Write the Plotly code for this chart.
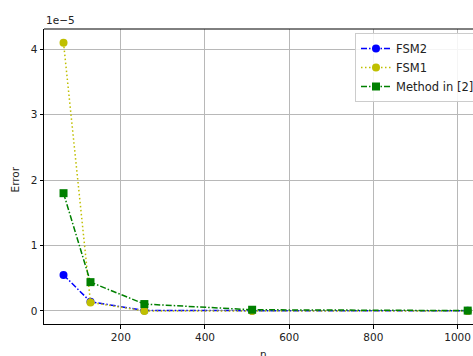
import plotly.graph_objects as go

# Data (errors)
n = [64, 128, 256, 512, 1024]
fsm2 = [0.55e-5, 0.14e-5, 0.006e-5, 0.003e-5, 0.001e-5]
fsm1 = [4.10e-5, 0.13e-5, 0.0e-5, 0.0e-5, 0.0e-5]
method2 = [1.80e-5, 0.44e-5, 0.105e-5, 0.018e-5, 0.005e-5]

y_tick_vals = [0, 1e-5, 2e-5, 3e-5, 4e-5]
y_tick_text = ["0", "1", "2", "3", "4"]
x_tick_vals = [200, 400, 600, 800, 1000]

FONT = "DejaVu Sans"
FS = 10.5

fig = go.Figure()
fig.add_trace(go.Scatter(
    x=n, y=fsm2, name="FSM2", mode="lines+markers",
    line=dict(color="#0000ff", width=1.5, dash="6px,2px,1.5px,2px"),
    marker=dict(symbol="circle", size=8, color="#0000ff")))
fig.add_trace(go.Scatter(
    x=n, y=fsm1, name="FSM1", mode="lines+markers",
    line=dict(color="#bfbf00", width=1.5, dash="1.5px,2.5px"),
    marker=dict(symbol="circle", size=8, color="#bfbf00")))
fig.add_trace(go.Scatter(
    x=n, y=method2, name="Method in [2]", mode="lines+markers",
    line=dict(color="#008000", width=1.5, dash="6px,2px,1.5px,2px"),
    marker=dict(symbol="square", size=8, color="#008000")))

fig.update_layout(
    width=473, height=356,
    margin=dict(l=44, r=0, t=29, b=32, autoexpand=False),
    paper_bgcolor="white", plot_bgcolor="white",
    font=dict(family=FONT, size=FS, color="#222222"),
    showlegend=True,
    legend=dict(x=(355 - 44) / (473 - 44), y=1 - (33 - 29) / (356 - 61),
                xanchor="left", yanchor="top",
                bgcolor="rgba(255,255,255,0.85)", bordercolor="#cccccc",
                borderwidth=1, font=dict(family=FONT, size=11.5),
                itemwidth=30, tracegroupgap=0),
    xaxis=dict(range=[17.6, 1036.6], tickvals=x_tick_vals,
               showgrid=True, gridcolor="#b8b8b8", gridwidth=0.8,
               zeroline=False, showline=True, linecolor="black", linewidth=1,
               ticks="outside", ticklen=3.5, tickcolor="black", tickwidth=0.8,
               tickfont=dict(family=FONT, size=FS)),
    yaxis=dict(range=[-0.20e-5, 4.31e-5], tickvals=y_tick_vals, ticktext=y_tick_text,
               showgrid=True, gridcolor="#b8b8b8", gridwidth=0.8,
               zeroline=False, showline=True, linecolor="black", linewidth=1,
               ticks="outside", ticklen=3.5, tickcolor="black", tickwidth=0.8,
               tickfont=dict(family=FONT, size=FS)),
    shapes=[dict(type="line", xref="paper", yref="paper", x0=0, x1=1.01, y0=1, y1=1,
                 line=dict(color="black", width=1))],
    annotations=[
        dict(text="1e\u22125", xref="paper", yref="paper", x=0, y=1, xanchor="left",
             yanchor="bottom", showarrow=False, yshift=1,
             font=dict(family=FONT, size=FS)),
        dict(text="Error", xref="paper", yref="paper", x=0, y=0.5, xshift=-22,
             yshift=-3, xanchor="right", yanchor="middle", textangle=-90,
             showarrow=False, font=dict(family=FONT, size=FS)),
        dict(text="n", xref="paper", yref="paper", x=(263 - 44) / (473 - 44), y=0,
             yshift=-22, xanchor="center", yanchor="top", showarrow=False,
             font=dict(family=FONT, size=FS)),
    ],
)

fig.write_html("out.html")
